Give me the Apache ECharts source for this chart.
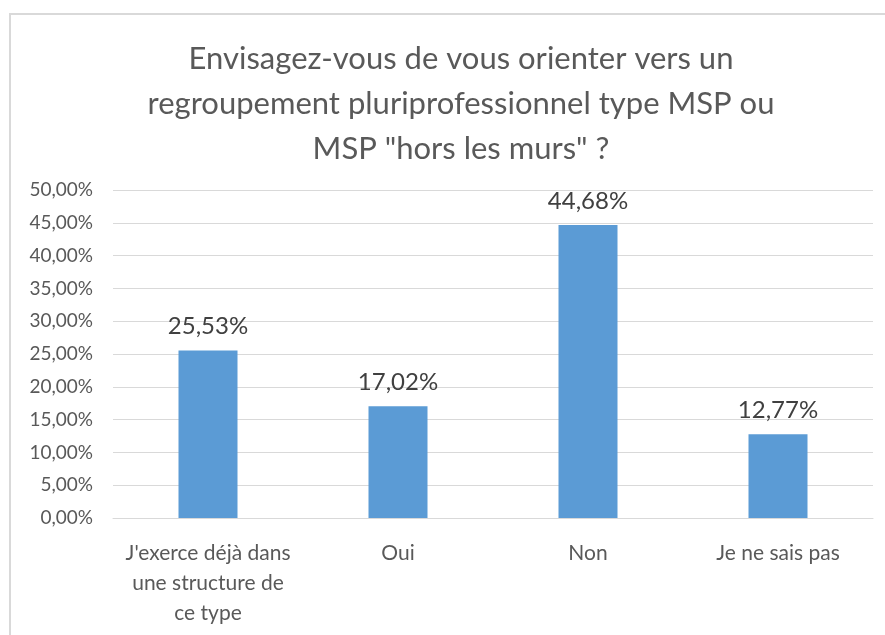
<!DOCTYPE html>
<html>
<head>
<meta charset="utf-8">
<script src="https://cdn.jsdelivr.net/npm/echarts@6/dist/echarts.min.js"></script>
<style>
  html, body { margin: 0; padding: 0; background: #fff; overflow: hidden; }
  #chart { width: 885px; height: 635px; }
</style>
</head>
<body>
<div id="chart"></div>
<script>
// chart data
var titleLines = ['Envisagez-vous de vous orienter vers un', 'regroupement pluriprofessionnel type MSP ou', 'MSP "hors les murs" ?'];
var categories = ["J'exerce déjà dans\nune structure de\nce type", 'Oui', 'Non', 'Je ne sais pas'];
var values = [0.2553, 0.1702, 0.4468, 0.1277];
var yMin = 0, yMax = 0.5, yStep = 0.05;

function pct(v) {
  return (v * 100).toFixed(2).replace('.', ',') + '%';
}

var chart = echarts.init(document.getElementById('chart'));

var option = {
  animation: false,
  textStyle: { fontFamily: 'Lato' },
  graphic: [{
    type: 'rect',
    shape: { x: 10, y: 14, width: 900, height: 700 },
    style: { fill: 'none', stroke: '#d9d9d9', lineWidth: 2 },
    silent: true
  }],
  title: {
    text: titleLines.join('\n'),
    left: 456,
    top: 31,
    textAlign: 'center',
    textStyle: {
      fontFamily: 'Lato',
      fontSize: 31,
      fontWeight: 'normal',
      color: '#595959',
      lineHeight: 45
    }
  },
  grid: { left: 113, right: 12, top: 190, bottom: 117 },
  xAxis: {
    type: 'category',
    data: categories,
    axisLine: { lineStyle: { color: '#d9d9d9', width: 1 } },
    axisTick: { show: false },
    axisLabel: {
      color: '#595959',
      fontSize: 21,
      lineHeight: 30,
      margin: 20,
      interval: 0
    }
  },
  yAxis: {
    type: 'value',
    min: yMin,
    max: yMax,
    interval: yStep,
    axisLine: { show: false },
    axisTick: { show: false },
    splitLine: { lineStyle: { color: '#d9d9d9', width: 1 } },
    axisLabel: {
      color: '#595959',
      fontSize: 19,
      margin: 20,
      formatter: pct
    }
  },
  series: [{
    type: 'bar',
    data: values,
    barWidth: 59,
    itemStyle: { color: '#5b9bd5' },
    label: {
      show: true,
      position: 'top',
      distance: 12,
      color: '#404040',
      fontSize: 24,
      formatter: function (p) { return pct(p.value); }
    }
  }]
};

chart.setOption(option);
</script>
</body>
</html>
